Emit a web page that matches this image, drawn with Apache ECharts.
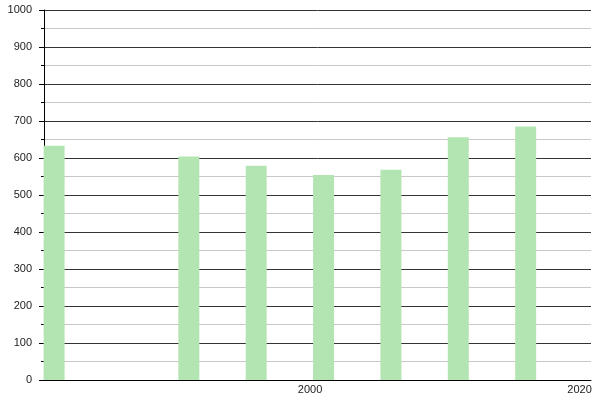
<!DOCTYPE html>
<html>
<head>
<meta charset="utf-8">
<script src="https://cdn.jsdelivr.net/npm/echarts@6/dist/echarts.min.js"></script>
<style>html,body{margin:0;padding:0;background:#fff}#c{width:600px;height:400px}</style>
</head>
<body>
<div id="c"></div>
<script>
const years = [1981, 1991, 1996, 2001, 2006, 2011, 2016];
const values = [633, 604, 579, 554, 568, 656, 685];
const xTickLabels = [2000, 2020];
const yTicks = { min: 0, max: 1000, step: 100 };

const chart = echarts.init(document.getElementById('c'), null, { renderer: 'canvas' });
chart.setOption({
  animation: false,
  backgroundColor: '#fff',
  grid: { left: 44, right: 9, top: 10, bottom: 20 },
  xAxis: {
    type: 'value',
    min: 1980.25,
    max: 2020.85,
    axisLine: { show: true, onZero: false, lineStyle: { color: '#000', width: 1 } },
    axisTick: { show: false },
    splitLine: { show: false },
    axisLabel: {
      customValues: xTickLabels,
      color: '#222',
      fontFamily: 'Liberation Sans, Arial, sans-serif',
      fontSize: 11,
      margin: 4,
      formatter: v => String(Math.round(v))
    }
  },
  yAxis: {
    type: 'value',
    min: yTicks.min,
    max: yTicks.max,
    interval: yTicks.step,
    axisLine: { show: true, lineStyle: { color: '#000', width: 1 } },
    axisTick: { show: true, length: 5, lineStyle: { color: '#000' } },
    minorTick: { show: true, splitNumber: 2, length: 3, lineStyle: { color: '#000' } },
    splitLine: { show: true, lineStyle: { color: '#333', width: 1 } },
    minorSplitLine: { show: true, lineStyle: { color: '#c8c8c8', width: 1 } },
    axisLabel: {
      color: '#222',
      fontFamily: 'Liberation Sans, Arial, sans-serif',
      fontSize: 11,
      margin: 12,
      formatter: v => String(v)
    }
  },
  series: [{
    type: 'bar',
    data: years.map((y, i) => [y, values[i]]),
    barWidth: 21,
    itemStyle: { color: '#b3e5b3' },
    clip: true
  }]
});
</script>
</body>
</html>
